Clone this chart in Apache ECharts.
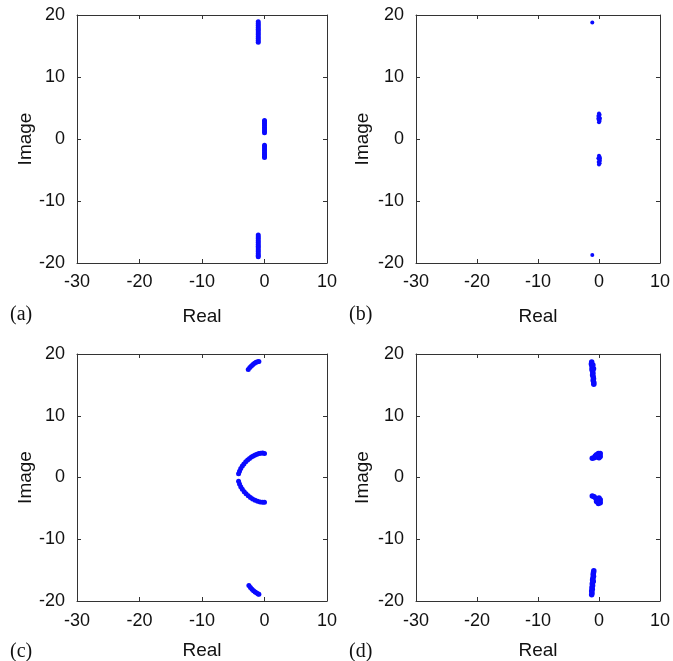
<!DOCTYPE html>
<html><head><meta charset="utf-8">
<script src="https://cdn.jsdelivr.net/npm/echarts@6/dist/echarts.min.js"></script>
<style>html,body{margin:0;padding:0;background:#fff}#c{width:673px;height:661px}</style>
</head><body><div id="c"></div>
<script>
// ---- data ----
const xTicks = [-30, -20, -10, 0, 10];
const yTicks = [-20, -10, 0, 10, 20];
const panelLabels = ['(a)', '(b)', '(c)', '(d)'];
const xName = 'Real';
const yName = 'Image';

const polesA = [
  [-1.0,15.6],[-1.0,15.9],[-1.0,16.2],[-1.0,16.5],[-1.0,16.8],[-1.0,17.1],[-1.0,17.4],[-1.0,17.7],[-1.0,18.0],[-1.0,18.3],[-1.0,18.6],[-1.0,18.9],
  [0.0,1.0],[0.0,1.3],[0.0,1.6],[0.0,1.9],[0.0,2.2],[0.0,2.5],[0.0,2.8],[0.0,3.0],
  [0.0,-1.0],[0.0,-1.3],[0.0,-1.6],[0.0,-1.9],[0.0,-2.2],[0.0,-2.5],[0.0,-2.8],[0.0,-3.0],
  [-1.0,-15.5],[-1.0,-15.8],[-1.0,-16.1],[-1.0,-16.4],[-1.0,-16.7],[-1.0,-17.0],[-1.0,-17.3],[-1.0,-17.6],[-1.0,-17.9],[-1.0,-18.2],[-1.0,-18.5],[-1.0,-18.8],[-1.0,-19.0]
];
const polesB = [
  [-1.1,18.8],[-1.1,-18.7],
  [0.0,4.1],[0.1,3.9],[-0.1,3.7],[0.05,3.5],[0.15,3.3],[-0.05,3.1],[0.1,2.9],[0.0,2.7],[-0.1,3.3],
  [0.0,-2.7],[0.1,-2.9],[-0.1,-3.1],[0.05,-3.3],[0.15,-3.5],[-0.05,-3.7],[0.1,-3.9],[0.0,-4.1],[0.15,-3.1]
];
const polesC = [
  [-2.6,17.5],[-2.35,17.8],[-2.1,18.05],[-1.85,18.3],[-1.6,18.5],[-1.35,18.65],[-1.1,18.75],[-0.9,18.8],
  [0.0,3.9],[-0.3,3.95],[-0.6,3.93],[-0.9,3.87],[-1.2,3.78],[-1.5,3.65],[-1.8,3.5],[-2.1,3.3],[-2.4,3.08],[-2.7,2.83],[-3.0,2.55],[-3.3,2.2],[-3.55,1.85],[-3.8,1.45],[-4.0,1.0],[-4.15,0.6],
  [-4.15,-0.6],[-4.0,-1.05],[-3.8,-1.5],[-3.55,-1.9],[-3.25,-2.3],[-2.95,-2.65],[-2.6,-2.95],[-2.25,-3.25],[-1.9,-3.5],[-1.5,-3.7],[-1.1,-3.85],[-0.7,-3.95],[-0.3,-4.0],[0.0,-4.0],
  [-2.5,-17.5],[-2.25,-17.8],[-2.0,-18.1],[-1.75,-18.35],[-1.5,-18.55],[-1.25,-18.7],[-1.0,-18.85],[-0.9,-18.9]
];
const polesD = [
  [-1.2,18.7],[-1.25,18.4],[-1.15,18.1],[-1.1,17.8],[-1.15,17.5],[-1.05,17.2],[-1.0,16.9],[-1.05,16.6],[-0.95,16.3],[-0.9,16.0],[-0.95,15.7],[-0.85,15.4],[-0.85,15.1],[-0.9,17.6],[-1.0,18.2],
  [-1.1,3.1],[-0.8,3.2],[-0.5,3.4],[-0.2,3.6],[0.1,3.7],[0.2,3.4],[0.0,3.2],[-0.3,3.3],[-0.6,3.5],[0.2,3.9],[-0.1,3.9],[-0.4,3.7],
  [-1.1,-3.0],[-0.8,-3.1],[-0.5,-3.4],[-0.2,-3.7],[0.1,-3.9],[0.2,-3.6],[0.0,-3.3],[-0.3,-3.5],[0.2,-4.1],[-0.1,-4.2],[-0.4,-3.9],
  [-0.85,-15.1],[-0.9,-15.4],[-0.95,-15.7],[-0.9,-16.0],[-1.0,-16.3],[-1.05,-16.6],[-1.0,-16.9],[-1.1,-17.2],[-1.05,-17.5],[-1.15,-17.8],[-1.1,-18.1],[-1.2,-18.4],[-1.15,-18.7],[-1.2,-19.0],[-0.95,-16.8]
];
const panelData = [polesA, polesB, polesC, polesD];
const symbolSizes = [5, 4, 5, 5.5];

// ---- layout ----
const grids = [
  {left: 77, top: 15, width: 250, height: 248},
  {left: 416, top: 15, width: 250, height: 248},
  {left: 77, top: 354, width: 250, height: 249},
  {left: 416, top: 354, width: 250, height: 249}
];
const labelPos = [[10, 305], [349, 305], [10, 642], [349, 642]];
const nameGaps = [44, 44, 40, 40];
const labelMargins = [10, 10, 11, 11];
const yNameGaps = [41, 44, 41, 44];

const lineCol = '#333';
const font = 'Liberation Sans, Arial, Helvetica, sans-serif';

const xAxes = [], yAxes = [], series = [], graphics = [];
grids.forEach((g, i) => {
  const common = {
    axisLine: {show: true, onZero: false, lineStyle: {color: lineCol, width: 1}},
    axisTick: {show: true, inside: true, length: 4, lineStyle: {color: lineCol}},
    splitLine: {show: false}
  };
  xAxes.push(Object.assign({}, common, {
    type: 'value', gridIndex: i, position: 'bottom', min: xTicks[0], max: xTicks[xTicks.length-1], interval: 10,
    name: xName, nameLocation: 'middle', nameGap: nameGaps[i],
    nameTextStyle: {color: '#111', fontSize: 19, fontFamily: font},
    axisLabel: {color: '#111', fontSize: 18, fontFamily: font, margin: labelMargins[i]}
  }));
  xAxes.push(Object.assign({}, common, {
    type: 'value', gridIndex: i, position: 'top', min: xTicks[0], max: xTicks[xTicks.length-1], interval: 10,
    axisLabel: {show: false}
  }));
  yAxes.push(Object.assign({}, common, {
    type: 'value', gridIndex: i, position: 'left', min: yTicks[0], max: yTicks[yTicks.length-1], interval: 10,
    name: yName, nameLocation: 'middle', nameGap: yNameGaps[i], nameRotate: 90,
    nameTextStyle: {color: '#111', fontSize: 19, fontFamily: font},
    axisLabel: {color: '#111', fontSize: 18, fontFamily: font, margin: 12}
  }));
  yAxes.push(Object.assign({}, common, {
    type: 'value', gridIndex: i, position: 'right', min: yTicks[0], max: yTicks[yTicks.length-1], interval: 10,
    axisLabel: {show: false}
  }));
  series.push({
    type: 'scatter', xAxisIndex: 2*i, yAxisIndex: 2*i,
    data: panelData[i], symbol: 'circle', symbolSize: symbolSizes[i],
    itemStyle: {color: '#0a0aff', opacity: 1}, silent: true, animation: false
  });
  graphics.push({
    type: 'text', left: labelPos[i][0], top: labelPos[i][1],
    style: {text: panelLabels[i], fontSize: 20, fontFamily: 'Liberation Serif, Times New Roman, serif', fill: '#111'}
  });
});

const chart = echarts.init(document.getElementById('c'), null, {renderer: 'canvas'});
chart.setOption({
  animation: false,
  backgroundColor: '#fff',
  grid: grids.map(g => Object.assign({containLabel: false}, g)),
  xAxis: xAxes,
  yAxis: yAxes,
  series: series,
  graphic: graphics
});
</script></body></html>
